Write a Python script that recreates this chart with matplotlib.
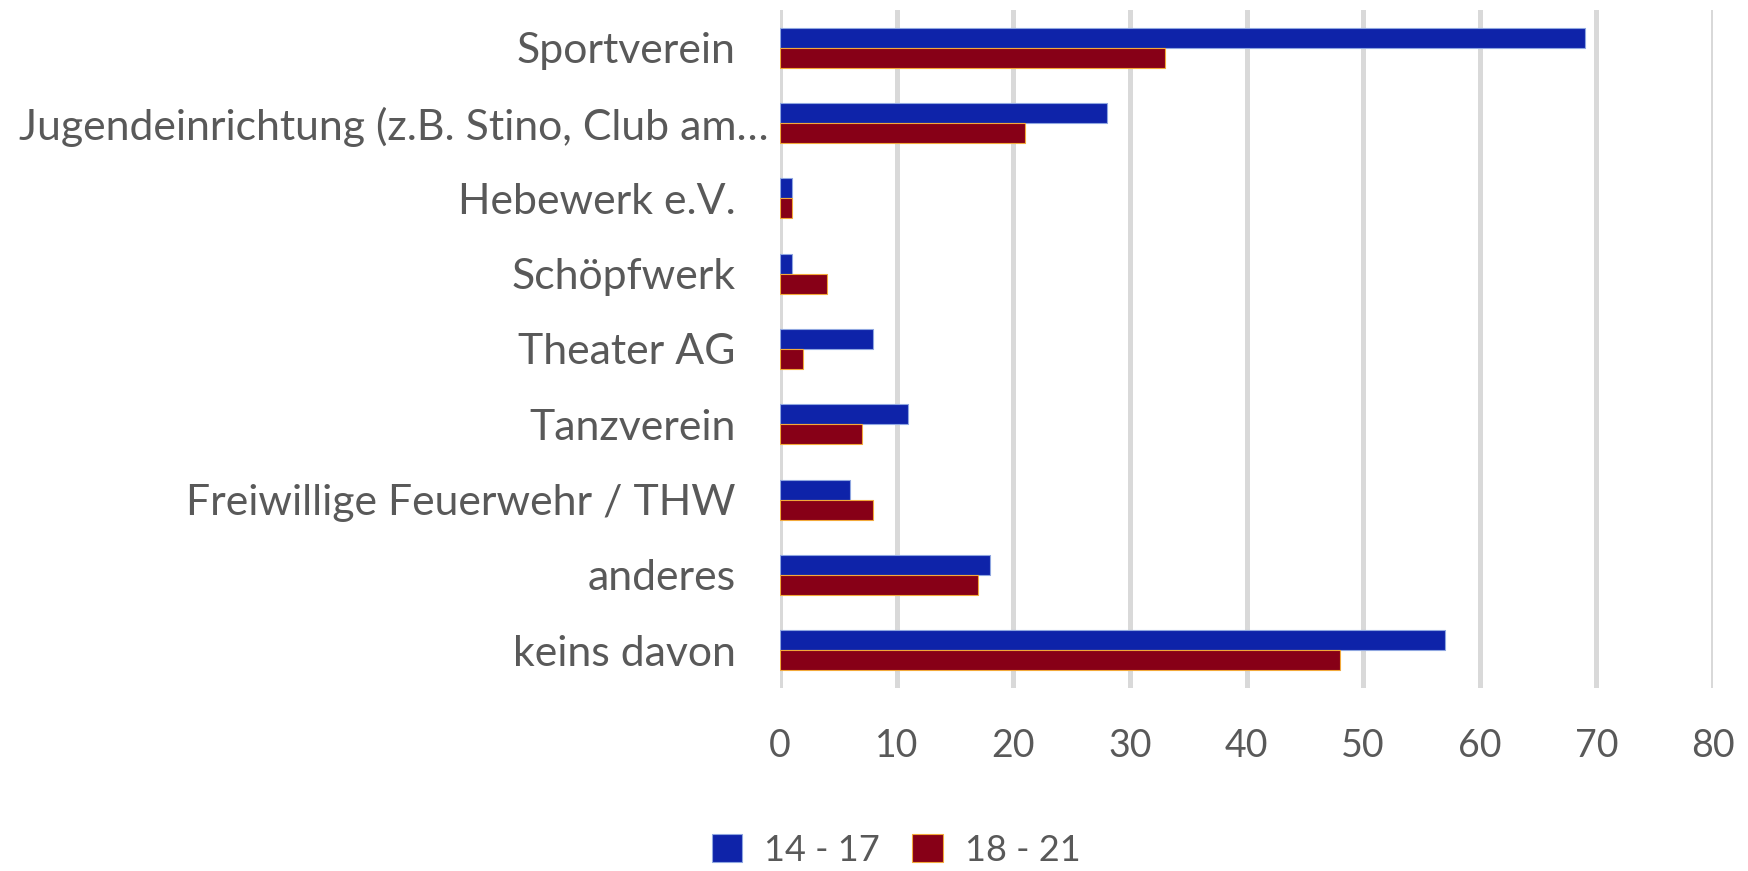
import matplotlib
matplotlib.use("Agg")
import matplotlib.pyplot as plt
import numpy as np
from matplotlib.transforms import ScaledTranslation

categories = ["Sportverein", "Jugendeinrichtung (z.B. Stino, Club am…",
              "Hebewerk e.V.", "Schöpfwerk", "Theater AG", "Tanzverein",
              "Freiwillige Feuerwehr / THW", "anderes", "keins davon"]
series_names = ["14 - 17", "18 - 21"]
vals_14_17 = [69, 28, 1, 1, 8, 11, 6, 18, 57]
vals_18_21 = [33, 21, 1, 4, 2, 7, 8, 17, 48]
xticks = [0, 10, 20, 30, 40, 50, 60, 70, 80]

plt.rcParams['font.family'] = ['Lato', 'DejaVu Sans']
txt = '#595959'
blue = '#0e23a9'
red = '#870017'

fig = plt.figure(figsize=(17.48, 8.71), dpi=100)
ax = fig.add_axes([780/1748, 1-688/871, (1713-780)/1748, (688-10)/871])

y = np.arange(len(categories))
h = 0.265
ax.barh(y - h/2, vals_14_17, height=h, color=blue, edgecolor='#8fa6e0', linewidth=0.8,
        label=series_names[0], zorder=3)
ax.barh(y + h/2, vals_18_21, height=h, color=red, edgecolor='#f2a93b', linewidth=0.8,
        label=series_names[1], zorder=3)

ax.set_ylim(len(categories) - 0.5, -0.5)
ax.set_xlim(0, 80)
ax.set_xticks(xticks)
ax.set_xticklabels([str(t) for t in xticks])
ax.set_yticks(y)
ax.set_yticklabels(categories)
ax.tick_params(axis='both', length=0, labelcolor=txt)
ax.tick_params(axis='y', pad=32, labelsize=30.8)
ax.tick_params(axis='x', pad=29, labelsize=27)
ax.grid(axis='x', color='#d9d9d9', linewidth=3.6, zorder=0)
ax.set_axisbelow(True)
for s in ax.spines.values():
    s.set_visible(False)

# long label sits slightly further right in the original
lab = ax.get_yticklabels()[1]
lab.set_transform(lab.get_transform() + ScaledTranslation(33/100, 0, fig.dpi_scale_trans))

fig.legend(loc='center', bbox_to_anchor=(896/1748, 1-850/871), ncol=2, frameon=False,
           fontsize=26, labelcolor=txt, handlelength=0.85, handleheight=0.85,
           handletextpad=0.6, columnspacing=0.9)

fig.savefig('out.png', dpi=100, facecolor='white')
